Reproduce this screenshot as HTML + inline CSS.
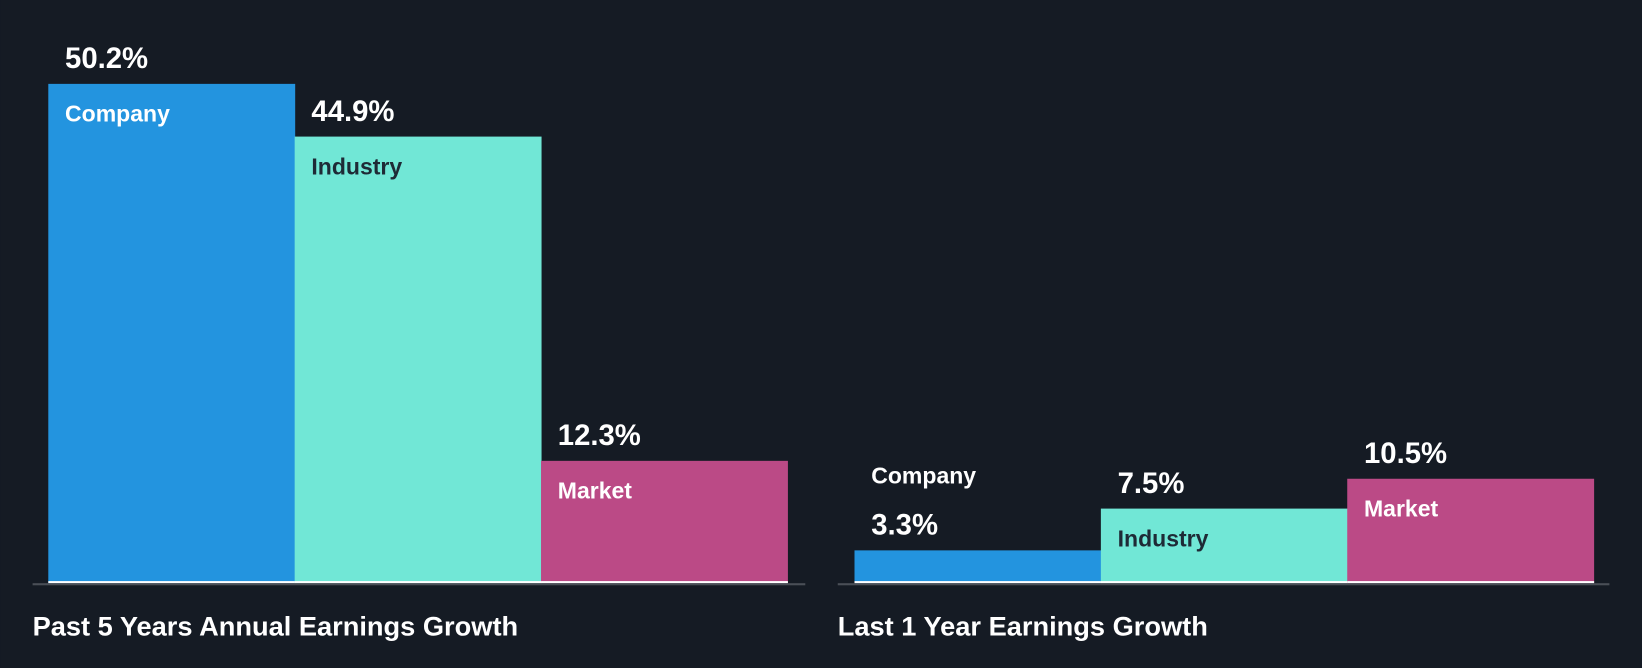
<!DOCTYPE html>
<html><head><meta charset="utf-8"><style>
html,body{margin:0;padding:0;background:#151b24;}
svg{display:block;}
text{font-family:"Liberation Sans",Arial,sans-serif;font-weight:bold;}
</style></head><body>
<svg id="chart" width="1642" height="668" viewBox="0 0 1568 638" xmlns="http://www.w3.org/2000/svg">
<rect x="0" y="0" width="1568" height="638" fill="#151b24"/>
</svg>
<script>
const categories = ["Company", "Industry", "Market"];
const past5Values = [50.2, 44.9, 12.3];
const last1Values = [3.3, 7.5, 10.5];
const panelTitles = ["Past 5 Years Annual Earnings Growth", "Last 1 Year Earnings Growth"];

const colors = ["#2394df", "#71e7d6", "#bb4a86"];
const labelColors = ["#ffffff", "#1e2a36", "#ffffff"];
const svg = document.getElementById('chart');
const NS = "http://www.w3.org/2000/svg";
const baseY = 557;
const pxPerPct = 9.5;
function yScale(v){ return baseY - v * pxPerPct; }
const panels = [
  {values: past5Values, x0: 46, axisX: 31, axisW: 738, title: panelTitles[0], titleX: 31, key: 'past-5-years'},
  {values: last1Values, x0: 816, axisX: 800, axisW: 737, title: panelTitles[1], titleX: 800, key: 'last-1-year'}
];
const barW = 235.3;
function mk(tag, attrs){ const e = document.createElementNS(NS, tag); for (const k in attrs) e.setAttribute(k, attrs[k]); return e; }
panels.forEach(p => {
  const g = mk('g', {});
  
  
  svg.appendChild(g);
  p.values.forEach((v, i) => {
    const x = p.x0 + i * barW;
    const top = yScale(v);
    const h = baseY - top;
    const r = mk('rect', {x: x, y: top, width: barW + 0.5, height: h, fill: colors[i]});
    
    
    g.appendChild(r);
    const base = mk('rect', {x: x, y: baseY - 2, width: barW + 0.5, height: 2, fill: '#ffffff'});
    
    
    g.appendChild(base);
    const val = mk('text', {x: x + 16, y: top - 15, fill: '#ffffff', 'font-size': 28});
    val.textContent = v.toFixed(1) + '%';
    
    
    g.appendChild(val);
    const inside = h >= 50;
    const cat = mk('text', {x: x + 16, y: inside ? top + 36 : top - 64, fill: inside ? labelColors[i] : '#ffffff', 'font-size': 22});
    cat.textContent = categories[i];
    
    
    g.appendChild(cat);
  });
  const ax = mk('rect', {x: p.axisX, y: baseY, width: p.axisW, height: 2, fill: '#4a4f57'});
  
  
  g.appendChild(ax);
  const t = mk('text', {x: p.titleX, y: 607, fill: '#ffffff', 'font-size': 26});
  t.textContent = p.title;
  
  
  g.appendChild(t);
});
</script>
</body></html>
